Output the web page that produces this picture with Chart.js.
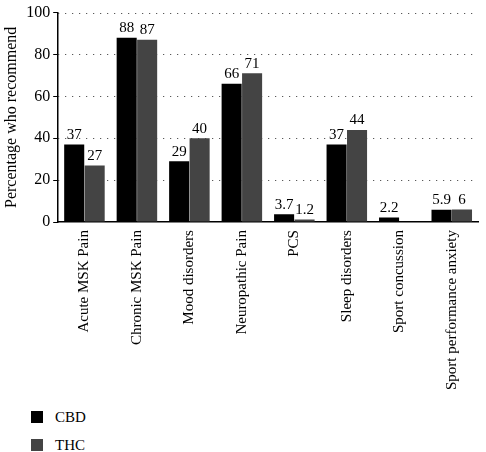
<!DOCTYPE html>
<html>
<head>
<meta charset="UTF-8">
<script src="https://cdn.jsdelivr.net/npm/chart.js"></script>
<style>
  body { margin: 0; background: #fff; font-family: "Liberation Serif", serif; }
  #wrap { position: relative; width: 486px; height: 452px; }
  #legend { position: absolute; left: 31px; top: 407px; font-family: "Liberation Serif", serif; font-size: 15px; }
  #legend div { display: flex; align-items: center; height: 20px; margin-bottom: 8px; }
  #legend span.box { width: 12px; height: 12px; margin-right: 12px; display: inline-block; }
</style>
</head>
<body>
<div id="wrap">
  <canvas id="chart" width="486" height="398"></canvas>
  <div id="legend"></div>
</div>
<script>
const categories = ['Acute MSK Pain', 'Chronic MSK Pain', 'Mood disorders', 'Neuropathic Pain',
  'PCS', 'Sleep disorders', 'Sport concussion', 'Sport performance anxiety'];
const cbdValues = [37, 88, 29, 66, 3.7, 37, 2.2, 5.9];
const thcValues = [27, 87, 40, 71, 1.2, 44, null, 6];
const seriesNames = ['CBD', 'THC'];
const seriesColors = ['#000000', '#444444'];
const yTicks = [0, 20, 40, 60, 80, 100];

const labelPlugin = {
  id: 'valueLabels',
  beforeDatasetsDraw(chart) {
    // dotted grid lines
    const ctx = chart.ctx, y = chart.scales.y, area = chart.chartArea;
    ctx.save();
    ctx.strokeStyle = '#333';
    ctx.lineWidth = 1;
    ctx.setLineDash([1, 6]);
    yTicks.forEach(v => {
      if (v === 0) return;
      const py = Math.round(y.getPixelForValue(v)) + 0.5;
      ctx.beginPath();
      ctx.moveTo(area.left, py);
      ctx.lineTo(area.right, py);
      ctx.stroke();
    });
    ctx.restore();
  },
  afterDatasetsDraw(chart) {
    const ctx = chart.ctx;
    ctx.save();
    ctx.font = '15px "Liberation Serif"';
    ctx.fillStyle = '#000';
    ctx.textAlign = 'center';
    ctx.textBaseline = 'bottom';
    chart.data.datasets.forEach((ds, i) => {
      chart.getDatasetMeta(i).data.forEach((bar, j) => {
        if (ds.data[j] == null) return;
        ctx.fillText(String(ds.data[j]), bar.x, bar.y - 2);
      });
    });
    ctx.restore();
  }
};

new Chart(document.getElementById('chart'), {
  type: 'bar',
  data: {
    labels: categories,
    datasets: [
      { label: seriesNames[0], data: cbdValues, backgroundColor: seriesColors[0] },
      { label: seriesNames[1], data: thcValues, backgroundColor: seriesColors[1] }
    ]
  },
  options: {
    responsive: false,
    animation: false,
    layout: { padding: { top: 10, right: 8 } },
    datasets: { bar: { categoryPercentage: 0.78, barPercentage: 0.98 } },
    plugins: { legend: { display: false }, tooltip: { enabled: false } },
    scales: {
      x: {
        grid: { display: false, drawTicks: false },
        border: { color: '#000', width: 1.5 },
        ticks: { color: '#000', font: { family: 'Liberation Serif', size: 15 }, maxRotation: 90, minRotation: 90, padding: 8 }
      },
      y: {
        min: 0, max: 100,
        afterBuildTicks(axis) { axis.ticks = yTicks.map(v => ({ value: v })); },
        grid: { drawOnChartArea: false, drawTicks: true, tickLength: 5, tickColor: '#000' },
        border: { color: '#000', width: 1.5 },
        ticks: { color: '#000', font: { family: 'Liberation Serif', size: 16 }, padding: 3 },
        title: { display: true, text: 'Percentage who recommend', color: '#000', font: { family: 'Liberation Serif', size: 16 }, padding: 2 }
      }
    }
  },
  plugins: [labelPlugin]
});

const legend = document.getElementById('legend');
seriesNames.forEach((n, i) => {
  const d = document.createElement('div');
  d.innerHTML = '<span class="box" style="background:' + seriesColors[i] + '"></span>' + n;
  legend.appendChild(d);
});
</script>
</body>
</html>
